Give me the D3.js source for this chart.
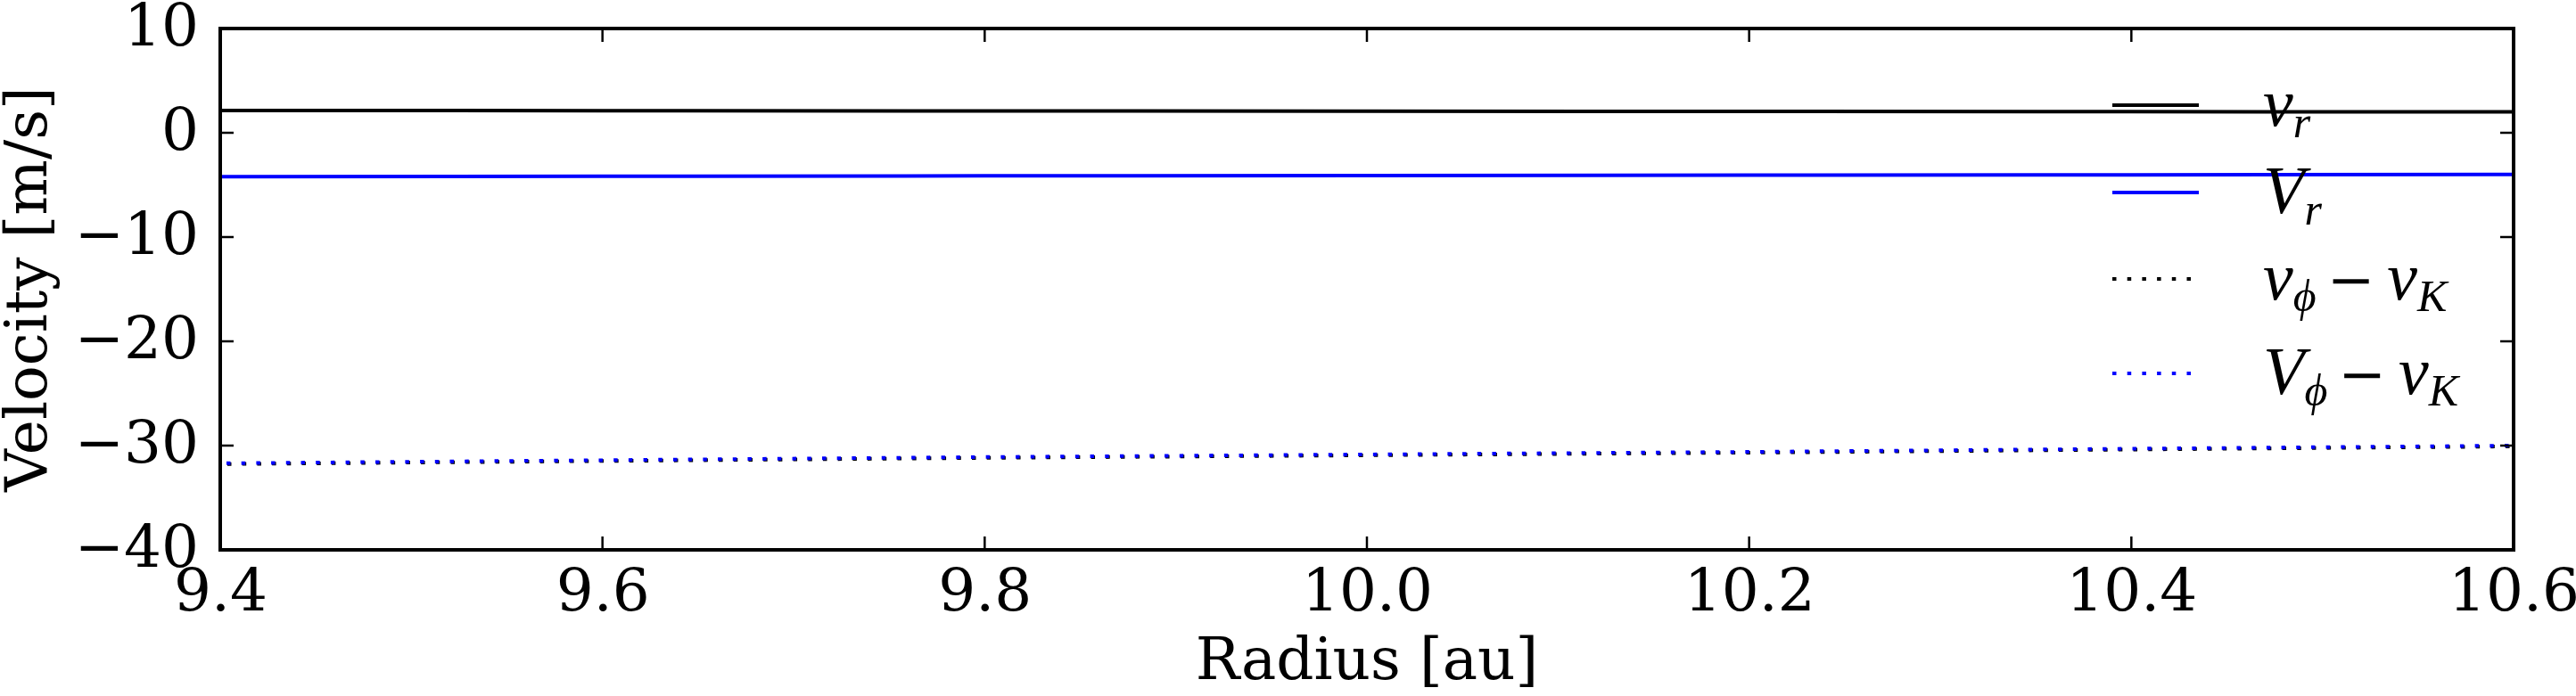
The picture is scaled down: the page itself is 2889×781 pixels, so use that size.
<!DOCTYPE html>
<html>
<head>
<meta charset="utf-8">
<script src="https://cdn.jsdelivr.net/npm/d3@7"></script>
<style>
html,body{margin:0;padding:0;background:#fff;}
svg{display:block;}
text{font-family:"DejaVu Serif",serif;}
.math{font-family:"Liberation Serif","DejaVu Serif",serif;font-style:italic;}
</style>
</head>
<body>
<script>
// ---- data ----
const radius = [9.4, 9.6, 9.8, 10.0, 10.2, 10.4, 10.6];
const vR     = [2.14, 2.12, 2.10, 2.07, 2.05, 2.02, 2.00];      // v_r
const VR     = [-4.20, -4.17, -4.13, -4.10, -4.07, -4.03, -4.00]; // V_r
const vPhiK  = [-31.78, -31.48, -31.18, -30.93, -30.68, -30.38, -30.08]; // v_phi - v_K
const VPhiK  = [-31.70, -31.40, -31.10, -30.85, -30.60, -30.30, -30.00]; // V_phi - v_K
const xTicks = [9.4, 9.6, 9.8, 10.0, 10.2, 10.4, 10.6];
const yTicks = [10, 0, -10, -20, -30, -40];
const xDomain = [9.4, 10.6];
const yDomain = [-40, 10];

const W = 2889, H = 781;
const m = {left:247, right:2819, top:32, bottom:617};

const svg = d3.select("body").append("svg").attr("width", W).attr("height", H);
const x = d3.scaleLinear().domain(xDomain).range([m.left, m.right]);
const y = d3.scaleLinear().domain(yDomain).range([m.bottom, m.top]);

const fmtX = d => d.toFixed(1);
const fmtY = d => (d < 0 ? "\u2212" + Math.abs(d) : String(d));

const series = [
  {vals: vR,    color: "#000000", dash: null},
  {vals: VR,    color: "#0000ff", dash: null},
  {vals: vPhiK, color: "#000000", dash: "4.5,12.2", offset: 1},
  {vals: VPhiK, color: "#0000ff", dash: "4.5,12.2", offset: 0}
];

svg.append("clipPath").attr("id","clip").append("rect")
  .attr("x", m.left).attr("y", m.top).attr("width", m.right-m.left).attr("height", m.bottom-m.top);

const line = d3.line().x((d,i)=>x(radius[i])).y(d=>y(d));
const gLines = svg.append("g").attr("clip-path","url(#clip)");
series.forEach(s => {
  const p = gLines.append("path").datum(s.vals)
    .attr("d", line).attr("fill","none").attr("stroke", s.color).attr("stroke-width", 4);
  if (s.dash) p.attr("stroke-dasharray", s.dash).attr("stroke-dashoffset", -(s.offset||0) - 7);
});

// ticks (inside, all four sides)
const tickLen = 15;
const gT = svg.append("g").attr("stroke","#000").attr("stroke-width",2.5);
xTicks.forEach(t => {
  gT.append("line").attr("x1",x(t)).attr("x2",x(t)).attr("y1",m.bottom).attr("y2",m.bottom-tickLen);
  gT.append("line").attr("x1",x(t)).attr("x2",x(t)).attr("y1",m.top).attr("y2",m.top+tickLen);
});
yTicks.forEach(t => {
  gT.append("line").attr("x1",m.left).attr("x2",m.left+tickLen).attr("y1",y(t)).attr("y2",y(t));
  gT.append("line").attr("x1",m.right).attr("x2",m.right-tickLen).attr("y1",y(t)).attr("y2",y(t));
});

// frame
svg.append("rect").attr("x",m.left).attr("y",m.top).attr("width",m.right-m.left).attr("height",m.bottom-m.top)
  .attr("fill","none").attr("stroke","#000").attr("stroke-width",4);

// tick labels via d3 axis
const fs = 66;
const xAxis = d3.axisBottom(x).tickValues(xTicks).tickFormat(fmtX).tickSize(0).tickPadding(0);
const gx = svg.append("g").attr("transform",`translate(0,${m.bottom})`).call(xAxis);
gx.select(".domain").remove();
gx.selectAll("text").attr("font-family","DejaVu Serif").attr("font-size",fs).attr("fill","#000")
  .attr("dy",null).attr("y",68);

const yAxis = d3.axisLeft(y).tickValues(yTicks).tickFormat(fmtY).tickSize(0).tickPadding(0);
const gy = svg.append("g").attr("transform",`translate(${m.left},0)`).call(yAxis);
gy.select(".domain").remove();
gy.selectAll("text").attr("font-family","DejaVu Serif").attr("font-size",fs).attr("fill","#000")
  .attr("dy",null).attr("x",-24).attr("y",18);

// axis titles
svg.append("text").attr("x",(m.left+m.right)/2).attr("y",762).attr("text-anchor","middle")
  .attr("font-size",fs).text("Radius [au]");
svg.append("text").attr("transform",`translate(52,${(m.top+m.bottom)/2}) rotate(-90)`)
  .attr("text-anchor","middle").attr("font-size",fs).text("Velocity [m/s]");

// legend
const legendItems = [
  {color:"#000000", dash:null, y:118, parts:[["v","main"],["r","sub"]]},
  {color:"#0000ff", dash:null, y:216, parts:[["V","main"],["r","sub"]]},
  {color:"#000000", dash:"4.5,12.2", y:313, parts:[["v","main"],["\u03d5","sub"],["\u2212","op"],["v","main2"],["K","sub"]]},
  {color:"#0000ff", dash:"4.5,12.2", y:419, parts:[["V","main"],["\u03d5","sub"],["\u2212","op"],["v","main2"],["K","sub"]]}
];
const lg = svg.append("g");
legendItems.forEach(it => {
  const l = lg.append("line").attr("x1",2369).attr("x2",2466).attr("y1",it.y).attr("y2",it.y)
    .attr("stroke",it.color).attr("stroke-width",4);
  if (it.dash) l.attr("stroke-dasharray",it.dash);
  const t = lg.append("text").attr("class","math").attr("x",2538).attr("y",it.y+23).attr("font-size",76);
  it.parts.forEach(([s,kind]) => {
    const ts = t.append("tspan").text(s);
    if (kind === "sub") {
      ts.attr("font-size",50).attr("dy",13);
    } else if (kind === "op") {
      ts.attr("font-style","normal").attr("font-family","DejaVu Serif").attr("font-size",64)
        .attr("dy",-13).attr("dx",12);
    } else if (kind === "main2") {
      ts.attr("dx",14);
    }
  });
});
</script>
</body>
</html>
